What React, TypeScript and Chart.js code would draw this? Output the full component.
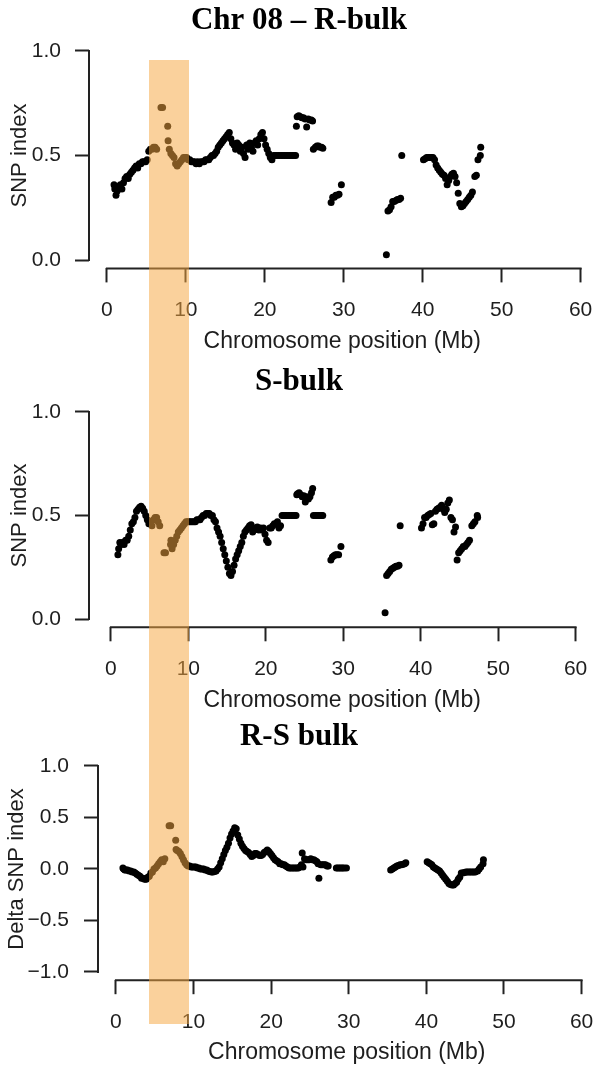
import React, { useEffect, useRef } from "react";
import { Chart, registerables } from "chart.js";

Chart.register(...registerables);

// ---------------- data ----------------
const positionsMb = [
  0.9, 1.0, 1.15, 1.3, 1.5, 1.7, 1.9, 2.1, 2.3, 2.5,
  2.7, 2.9, 3.1, 3.3, 3.5, 3.7, 3.9, 4.1, 4.3, 4.5,
  4.7, 4.9, 5.1, 5.3, 5.5, 5.7, 5.9, 6.1, 6.3, 6.85,
  7.05, 7.7, 7.75, 7.9, 8.1, 8.3, 8.5, 8.7, 8.9, 9.1,
  9.3, 9.5, 9.7, 9.9, 10.1, 10.3, 10.5, 10.7, 10.9, 11.1,
  11.3, 11.5, 11.7, 11.9, 12.1, 12.3, 12.5, 12.7, 12.9, 13.1,
  13.3, 13.5, 13.7, 13.9, 14.1, 14.3, 14.5, 14.7, 14.9, 15.1,
  15.3, 15.5, 15.7, 15.9, 16.1, 16.3, 16.5, 16.7, 16.9, 17.1,
  17.3, 17.5, 17.7, 17.9, 18.1, 18.3, 18.5, 18.7, 18.9, 19.1,
  19.3, 19.5, 19.7, 19.9, 20.1, 20.3, 20.5, 20.7, 20.9, 21.1,
  21.3, 21.5, 21.7, 21.9, 22.1, 22.3, 22.5, 22.7, 22.9, 23.1,
  23.3, 23.5, 23.7, 23.9, 24.0, 24.1, 24.3, 24.5, 24.7, 24.9,
  25.1, 25.3, 25.5, 25.7, 25.9, 26.05, 26.15, 26.4, 26.6, 26.8,
  27.0, 27.2, 27.35, 28.4, 28.6, 28.8, 29.0, 29.2, 29.4, 29.7,
  35.4, 35.6, 35.8, 36.0, 36.2, 36.4, 36.6, 36.8, 37.0, 37.2,
  37.35, 40.1, 40.3, 40.5, 40.7, 40.9, 41.1, 41.3, 41.5, 41.7,
  41.9, 42.1, 42.3, 42.5, 42.7, 42.9, 43.1, 43.3, 43.5, 43.7,
  43.9, 44.1, 44.3, 44.5, 44.7, 44.9, 45.1, 45.3, 45.5, 45.7,
  45.9, 46.1, 46.3, 46.6, 46.8, 47.0, 47.3, 47.35,
];

const rBulkIndex = [
  0.36, 0.34, 0.31, 0.33, 0.35, 0.36, 0.34, 0.37, 0.39, 0.40,
  0.39, 0.41, 0.42, 0.43, 0.44, 0.45, 0.44, 0.46, 0.46, 0.47,
  0.47, 0.47, 0.48, 0.52, 0.53, 0.53, 0.54, 0.54, 0.53, 0.73,
  0.73, 0.64, 0.57, 0.53, 0.51, 0.50, 0.49, 0.46, 0.45, 0.46,
  0.47, 0.48, 0.49, 0.49, 0.49, 0.48, 0.48, 0.47, 0.47, 0.47,
  0.46, 0.47, 0.46, 0.47, 0.47, 0.47, 0.48, 0.48, 0.48, 0.49,
  0.50, 0.50, 0.51, 0.52, 0.54, 0.55, 0.56, 0.57, 0.58, 0.59,
  0.60, 0.61, 0.58, 0.56, 0.55, 0.53, 0.56, 0.55, 0.52, 0.54,
  0.51, 0.49, 0.55, 0.53, 0.56, 0.54, 0.52, 0.56, 0.57, 0.55,
  0.58, 0.60, 0.61, 0.58, 0.55, 0.53, 0.51, 0.49, 0.48, 0.50,
  0.50, 0.50, 0.50, 0.50, 0.50, 0.50, 0.50, 0.50, 0.50, 0.50,
  0.50, 0.50, 0.50, 0.50, 0.64, 0.685, 0.69, 0.685, 0.68, 0.68,
  0.675, 0.636, 0.675, 0.67, 0.67, 0.665, 0.53, 0.54, 0.545, 0.545,
  0.54, 0.54, 0.535, 0.275, 0.30, 0.30, 0.31, 0.31, 0.315, 0.36,
  0.025, 0.235, 0.24, 0.255, 0.28, 0.28, 0.285, 0.29, 0.29, 0.295,
  0.50, 0.48, 0.485, 0.49, 0.49, 0.49, 0.49, 0.49, 0.48, 0.455,
  0.44, 0.43, 0.42, 0.41, 0.405, 0.39, 0.36, 0.38, 0.40, 0.41,
  0.415, 0.40, 0.37, 0.32, 0.27, 0.255, 0.26, 0.27, 0.28, 0.29,
  0.30, 0.31, 0.325, 0.40, 0.405, 0.48, 0.50, 0.54,
];

const sBulkIndex = [
  0.31, 0.34, 0.37, 0.36, 0.37, 0.36, 0.38, 0.38, 0.40, 0.43,
  0.46, 0.47, 0.49, 0.52, 0.53, 0.54, 0.545, 0.535, 0.52, 0.50,
  0.48, 0.46, 0.47, 0.45, 0.48, 0.49, 0.49, 0.47, 0.45, 0.32,
  0.32, 0.36, 0.38, 0.34, 0.36, 0.38, 0.40, 0.42, 0.43, 0.44,
  0.45, 0.46, 0.47, 0.47, 0.47, 0.47, 0.47, 0.47, 0.47, 0.48,
  0.48, 0.48, 0.49, 0.50, 0.50, 0.51, 0.51, 0.51, 0.50, 0.50,
  0.48, 0.47, 0.44, 0.42, 0.40, 0.37, 0.34, 0.31, 0.28, 0.25,
  0.22, 0.21, 0.23, 0.26, 0.29, 0.31, 0.33, 0.35, 0.37, 0.40,
  0.42, 0.43, 0.44, 0.45, 0.455, 0.42, 0.43, 0.44, 0.445, 0.43,
  0.44, 0.43, 0.44, 0.41, 0.38, 0.37, 0.44, 0.44, 0.45, 0.46,
  0.46, 0.47, 0.44, 0.45, 0.50, 0.50, 0.50, 0.50, 0.50, 0.50,
  0.50, 0.50, 0.50, 0.50, 0.60, 0.605, 0.61, 0.60, 0.59, 0.595,
  0.565, 0.59, 0.58, 0.59, 0.61, 0.63, 0.50, 0.50, 0.50, 0.50,
  0.50, 0.50, 0.50, 0.285, 0.30, 0.305, 0.31, 0.31, 0.31, 0.35,
  0.03, 0.21, 0.22, 0.23, 0.24, 0.245, 0.25, 0.255, 0.255, 0.26,
  0.45, 0.44, 0.46, 0.49, 0.49, 0.50, 0.505, 0.51, 0.455, 0.46,
  0.52, 0.53, 0.535, 0.54, 0.55, 0.53, 0.515, 0.53, 0.56, 0.575,
  0.49, 0.48, 0.42, 0.445, 0.285, 0.32, 0.33, 0.34, 0.35, 0.35,
  0.36, 0.37, 0.38, 0.45, 0.46, 0.47, 0.50, 0.49,
];

const deltaIndex = [
  0.01, 0.00, -0.01, -0.01, -0.01, -0.02, -0.02, -0.03, -0.03, -0.04,
  -0.05, -0.06, -0.07, -0.09, -0.09, -0.10, -0.10, -0.08, -0.07, -0.04,
  -0.03, 0.00, 0.01, 0.03, 0.05, 0.07, 0.09, 0.07, 0.10, 0.42,
  0.42, 0.28, 0.19, 0.18, 0.17, 0.15, 0.12, 0.09, 0.06, 0.04,
  0.03, 0.03, 0.02, 0.02, 0.02, 0.02, 0.01, 0.01, 0.00, 0.00,
  0.00, -0.01, -0.01, -0.02, -0.025, -0.03, -0.03, -0.025, -0.02, 0.00,
  0.02, 0.06, 0.10, 0.14, 0.18, 0.21, 0.25, 0.30, 0.34, 0.37,
  0.40, 0.39, 0.33, 0.29, 0.25, 0.22, 0.20, 0.18, 0.17, 0.16,
  0.14, 0.12, 0.13, 0.15, 0.15, 0.14, 0.13, 0.13, 0.14, 0.16,
  0.17, 0.185, 0.17, 0.15, 0.13, 0.11, 0.09, 0.08, 0.07, 0.05,
  0.05, 0.04, 0.04, 0.03, 0.02, 0.01, 0.01, 0.01, 0.01, 0.01,
  0.01, 0.01, 0.02, 0.04, 0.155, 0.02, 0.10, 0.09, 0.09, 0.09,
  0.10, 0.09, 0.09, 0.08, 0.07, 0.05, -0.09, 0.04, 0.04, 0.04,
  0.04, 0.03, 0.03, 0.01, 0.01, 0.01, 0.01, 0.01, 0.01, 0.01,
  -0.01, 0.00, 0.01, 0.02, 0.03, 0.035, 0.04, 0.04, 0.045, 0.05,
  0.06, 0.07, 0.06, 0.05, 0.04, 0.02, 0.01, 0.00, -0.01, -0.02,
  -0.04, -0.06, -0.08, -0.10, -0.12, -0.14, -0.15, -0.155, -0.155, -0.14,
  -0.13, -0.10, -0.08, -0.04, -0.04, -0.035, -0.03, -0.03, -0.03, -0.03,
  -0.03, -0.03, -0.03, -0.02, 0.00, 0.02, 0.05, 0.09,
];

const xTicks = [0, 10, 20, 30, 40, 50, 60];
const xTickLabels = ["0", "10", "20", "30", "40", "50", "60"];
const snpTicks = [0, 0.5, 1];
const snpTickLabels = ["0.0", "0.5", "1.0"];
const deltaTicks = [-1, -0.5, 0, 0.5, 1];
const deltaTickLabels = ["\u22121.0", "\u22120.5", "0.0", "0.5", "1.0"];
const panelTitles = ["Chr 08 \u2013 R-bulk", "S-bulk", "R-S bulk"];
const xAxisTitle = "Chromosome position (Mb)";
const yAxisTitles = ["SNP index", "SNP index", "Delta SNP index"];

// ---------------- layout ----------------
const W = 599;
const TEXT = "#1e1e1e";
const LINE = "#222222";
const SANS = "'Liberation Sans', Arial, sans-serif";
const SERIF = "'Liberation Serif', 'Times New Roman', serif";

type PanelCfg = {
  title: string;
  values: number[];
  yTicks: number[];
  yLabels: string[];
  yTitle: string;
  top: number;
  height: number;
  axisLeft: number;
  plotBottom: number;
  xMin: number;
  xMax: number;
  yMin: number;
  yMax: number;
  titlePadTop: number;
  titlePadBottom: number;
  yTitlePad: number;
  xTitlePad: number;
  yTickPad: number;
};

const panels: PanelCfg[] = [
  {
    title: panelTitles[0], values: rBulkIndex, yTicks: snpTicks, yLabels: snpTickLabels, yTitle: yAxisTitles[0],
    top: 0, height: 360, axisLeft: 89, plotBottom: 268.4,
    xMin: -2.27, xMax: 61.89, yMin: -0.04, yMax: 1.04,
    titlePadTop: 1.9, titlePadBottom: 3.5, yTitlePad: 6.8, xTitlePad: 4.2, yTickPad: 14,
  },
  {
    title: panelTitles[1], values: sBulkIndex, yTicks: snpTicks, yLabels: snpTickLabels, yTitle: yAxisTitles[1],
    top: 360, height: 355, axisLeft: 89, plotBottom: 267.3,
    xMin: -2.83, xMax: 62.57, yMin: -0.04, yMax: 1.04,
    titlePadTop: 3.4, titlePadBottom: 3.1, yTitlePad: 6.8, xTitlePad: 0.2, yTickPad: 14,
  },
  {
    title: panelTitles[2], values: deltaIndex, yTicks: deltaTicks, yLabels: deltaTickLabels, yTitle: yAxisTitles[2],
    top: 715, height: 354, axisLeft: 98, plotBottom: 265.2,
    xMin: -2.31, xMax: 61.79, yMin: -1.08, yMax: 1.08,
    titlePadTop: 3.4, titlePadBottom: 2.16, yTitlePad: 3.3, xTitlePad: 2.2, yTickPad: 15,
  },
];

// R-style axis lines spanning only the tick range
const rAxisPlugin = {
  id: "rAxisLines",
  afterDraw(chart: any) {
    const { ctx, chartArea, scales } = chart;
    const xs = scales.x;
    const ys = scales.y;
    const xt = xs.ticks;
    const yt = ys.ticks;
    ctx.save();
    ctx.strokeStyle = LINE;
    ctx.lineWidth = 2;
    ctx.lineCap = "square";
    ctx.beginPath();
    ctx.moveTo(xs.getPixelForValue(xt[0].value), chartArea.bottom);
    ctx.lineTo(xs.getPixelForValue(xt[xt.length - 1].value), chartArea.bottom);
    ctx.moveTo(chartArea.left, ys.getPixelForValue(yt[0].value));
    ctx.lineTo(chartArea.left, ys.getPixelForValue(yt[yt.length - 1].value));
    ctx.stroke();
    ctx.restore();
  },
};

function Panel({ cfg }: { cfg: PanelCfg }) {
  const ref = useRef<HTMLCanvasElement>(null);
  useEffect(() => {
    const canvas = ref.current;
    if (!canvas) return;
    const xHeight = cfg.height - cfg.plotBottom;
    const chart = new Chart(canvas, {
      type: "scatter",
      data: {
        datasets: [
          {
            data: positionsMb.map((x, i) => ({ x, y: cfg.values[i] })),
            pointRadius: 3.5,
            pointHoverRadius: 3.5,
            pointBackgroundColor: "#000000",
            pointBorderWidth: 0,
            showLine: false,
          },
        ],
      },
      options: {
        animation: false,
        responsive: false,
        devicePixelRatio: 1,
        events: [],
        layout: { padding: { left: 0, right: 1, top: 0, bottom: 0 } },
        plugins: {
          legend: { display: false },
          tooltip: { enabled: false },
          title: {
            display: true,
            text: cfg.title,
            color: "#000000",
            font: { family: SERIF, size: 31, weight: "bold", lineHeight: 1.2 },
            padding: { top: cfg.titlePadTop, bottom: cfg.titlePadBottom },
          },
        },
        scales: {
          x: {
            type: "linear",
            position: "bottom",
            min: cfg.xMin,
            max: cfg.xMax,
            afterBuildTicks: (s: any) => {
              s.ticks = xTicks.map((v) => ({ value: v }));
            },
            afterFit: (s: any) => {
              s.height = xHeight;
              s.paddingLeft = 0;
              s.paddingRight = 0;
            },
            ticks: {
              autoSkip: false,
              maxRotation: 0,
              padding: 15,
              color: TEXT,
              font: { family: SANS, size: 21, lineHeight: 1.2 },
              callback: (_v: any, i: number) => xTickLabels[i],
            },
            grid: {
              display: true,
              drawOnChartArea: false,
              drawTicks: true,
              tickLength: 14,
              tickWidth: 2,
              tickColor: LINE,
            },
            border: { display: false },
            title: {
              display: true,
              text: xAxisTitle,
              color: TEXT,
              font: { family: SANS, size: 23, lineHeight: 1.2 },
              padding: { top: 0, bottom: cfg.xTitlePad },
            },
          },
          y: {
            type: "linear",
            position: "left",
            min: cfg.yMin,
            max: cfg.yMax,
            afterBuildTicks: (s: any) => {
              s.ticks = cfg.yTicks.map((v) => ({ value: v }));
            },
            afterFit: (s: any) => {
              s.width = cfg.axisLeft;
              s.paddingTop = 0;
              s.paddingBottom = 0;
            },
            ticks: {
              autoSkip: false,
              padding: cfg.yTickPad,
              color: TEXT,
              font: { family: SANS, size: 21, lineHeight: 1.2 },
              callback: (_v: any, i: number) => cfg.yLabels[i],
            },
            grid: {
              display: true,
              drawOnChartArea: false,
              drawTicks: true,
              tickLength: 14,
              tickWidth: 2,
              tickColor: LINE,
            },
            border: { display: false },
            title: {
              display: true,
              text: cfg.yTitle,
              color: TEXT,
              font: { family: SANS, size: 22, lineHeight: 1.2 },
              padding: { top: cfg.yTitlePad, bottom: 0 },
            },
          },
        },
      } as any,
      plugins: [rAxisPlugin],
    });
    return () => chart.destroy();
  }, [cfg]);

  return (
    <div style={{ position: "absolute", left: 0, top: cfg.top, width: W, height: cfg.height }}>
      <canvas ref={ref} width={W} height={cfg.height} style={{ width: W, height: cfg.height, display: "block" }} />
    </div>
  );
}

export default function App() {
  return (
    <div style={{ position: "absolute", left: 0, top: 0, width: W, height: 1069, background: "#ffffff", overflow: "hidden" }}>
      {panels.map((p, i) => (
        <Panel key={i} cfg={p} />
      ))}
      <div
        style={{
          position: "absolute",
          left: 149,
          top: 60,
          width: 40,
          height: 964,
          background: "rgba(246,166,66,0.52)",
          pointerEvents: "none",
        }}
      />
    </div>
  );
}
